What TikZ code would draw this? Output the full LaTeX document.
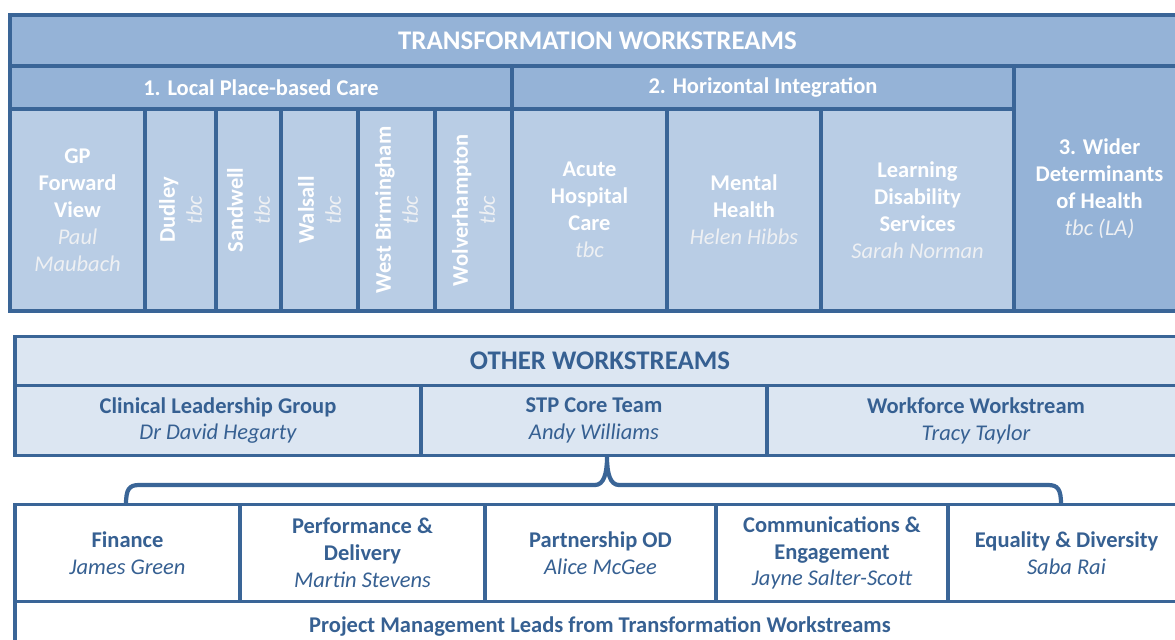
\documentclass[tikz,border=0pt]{standalone}
\usepackage{fontspec}
\setmainfont{Carlito}
\usetikzlibrary{calc}

\definecolor{hdrblue}{HTML}{95B3D7}
\definecolor{cellblue}{HTML}{B9CDE5}
\definecolor{paleblue}{HTML}{DCE6F2}
\definecolor{lineblue}{HTML}{3A6597}
\definecolor{textblue}{HTML}{366092}
\definecolor{namegrey}{HTML}{EEF0F3}
\colorlet{namecol}{textblue}
\newcommand{\who}[1]{{\mdseries\itshape\color{namecol}#1}}

\begin{document}
\begin{tikzpicture}[
		x=0.02cm, y=-0.02cm,
		box/.style 2 args={draw=lineblue, line width=2.2pt, inner sep=0pt,
			minimum width=#1*0.02cm, minimum height=#2*0.02cm, align=center,
			font=\fontsize{12.8}{15.3}\selectfont\bfseries},
		title/.style={font=\fontsize{15.3}{18}\selectfont\bfseries},
		top/.style={fill=#1, text=white,
			execute at begin node={\colorlet{namecol}{namegrey}}},
		other/.style={fill=#1, text=textblue},
		brace/.style={draw=lineblue, line width=2.4pt}
	]
	\useasboundingbox (0,0) rectangle (1175,639);
	\clip (0,0) rectangle (1175,639);

	% transformation workstreams
	\node[box={1175}{51}, top=hdrblue, title] (trTitle) at (597.5,40.5) {TRANSFORMATION WORKSTREAMS};
	\node[box={502}{43}, top=hdrblue] (sec1) at (261,87.5) {1. Local Place-based Care};
	\node[box={502}{43}, top=hdrblue] (sec2) at (763,87.5) {2. Horizontal Integration};
	\node[box={135}{202}, top=cellblue] (gp) at (77.5,210) {GP\\Forward\\View\\\who{Paul}\\\who{Maubach}};
	\node[box={202}{71}, top=cellblue, rotate=90] (dudley) at (180.5,210) {Dudley\\\who{tbc}};
	\node[box={202}{65}, top=cellblue, rotate=90] (sandwell) at (248.5,210) {Sandwell\\\who{tbc}};
	\node[box={202}{77}, top=cellblue, rotate=90] (walsall) at (319.5,210) {Walsall\\\who{tbc}};
	\node[box={202}{77}, top=cellblue, rotate=90] (westBham) at (396.5,210) {West Birmingham\\\who{tbc}};
	\node[box={202}{77}, top=cellblue, rotate=90] (wolves) at (473.5,210) {Wolverhampton\\\who{tbc}};
	\node[box={155}{202}, top=cellblue] (acute) at (589.5,210) {Acute\\Hospital\\Care\\\who{tbc}};
	\node[box={154}{202}, top=cellblue] (mental) at (744,210) {Mental\\Health\\\who{Helen Hibbs}};
	\node[box={193}{202}, top=cellblue] (learning) at (917.5,210) {Learning\\Disability\\Services\\\who{Sarah Norman}};
	\node[box={171}{245}, top=hdrblue] (sec3) at (1099.5,188.5) {3. Wider\\Determinants\\of Health\\\who{tbc (LA)}};

	% other workstreams
	\node[box={1170}{49}, other=paleblue, title] (owTitle) at (600,361) {OTHER WORKSTREAMS};
	\node[box={406}{70}, other=paleblue] (clinical) at (218,420.5) {Clinical Leadership Group\\\who{Dr David Hegarty}};
	\node[box={346}{70}, other=paleblue] (stp) at (594,420.5) {STP Core Team\\\who{Andy Williams}};
	\node[box={418}{70}, other=paleblue] (workforce) at (976,420.5) {Workforce Workstream\\\who{Tracy Taylor}};

	% core team support
	\node[box={225}{97}, other=white] (finance) at (127.5,553) {Finance\\\who{James Green}};
	\node[box={245}{97}, other=white] (perf) at (362.5,553) {Performance \&\\Delivery\\\who{Martin Stevens}};
	\node[box={231}{97}, other=white] (partner) at (600.5,553) {Partnership OD\\\who{Alice McGee}};
	\node[box={232}{97}, other=white] (comms) at (832,553) {Communications \&\\Engagement\\\who{Jayne Salter-Scott}};
	\node[box={237}{97}, other=white] (equality) at (1066.5,553) {Equality \& Diversity\\\who{Saba Rai}};
	\node[box={1170}{49}, other=white] (pmLeads) at (600,626) {Project Management Leads from Transformation Workstreams};

	\coordinate (tip) at (607,457);
	\coordinate (braceL) at (126,504.5);
	\coordinate (braceR) at (1061,504.5);
	\draw[brace] (braceL) .. controls +(0,-15) and +(-10,0) .. ++(13,-19.5)
		-- ($(tip)+(-12,28)$) .. controls +(9,0) and +(0,16) .. (tip)
		.. controls +(0,16) and +(-9,0) .. ($(tip)+(12,28)$)
		-- ($(braceR)+(-13,-19.5)$) .. controls +(10,0) and +(0,-15) .. (braceR);
\end{tikzpicture}
\end{document}
